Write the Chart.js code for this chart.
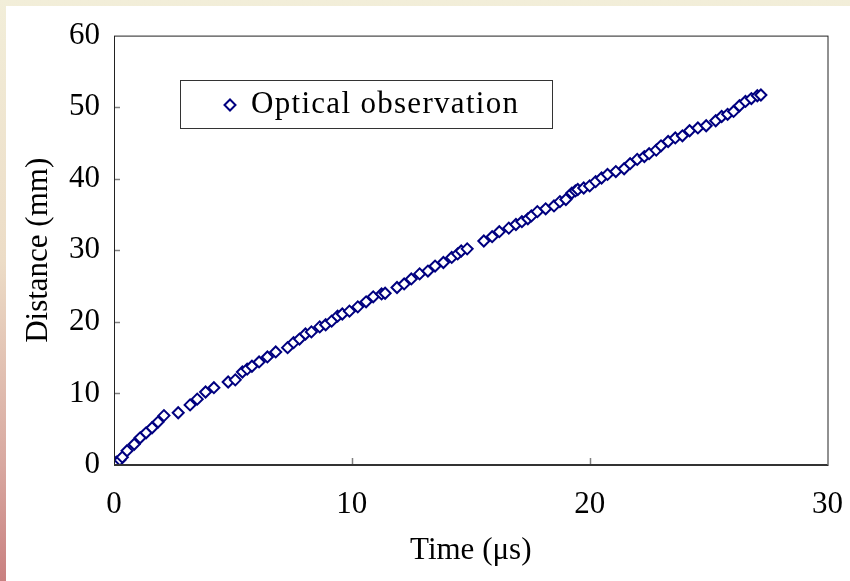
<!DOCTYPE html>
<html lang="en">
<head>
    <meta charset="UTF-8">
    <title>Optical observation</title>
    <script src="https://cdn.jsdelivr.net/npm/chart.js"></script>
    <style>
        html, body { margin: 0; padding: 0; }
        body {
            width: 850px; height: 581px; overflow: hidden; position: relative;
            background: linear-gradient(to bottom, #f2eed9 0%, #ecdcc6 45%, #d8a8a0 80%, #c98080 100%);
        }
        #wrap { position: absolute; left: 6px; top: 6px; width: 858px; height: 575px; background: #fff; overflow: hidden; }
        #distChart { display: block; margin-top: -3px; }
    </style>
</head>
<body>
<div id="wrap"><canvas id="distChart" width="858" height="578"></canvas></div>
<script>
    // time (us) and distance (mm)
    const timeUs = [0.1, 0.25, 0.35, 0.55, 0.85, 1.1, 1.35, 1.6, 1.85, 2.1,
        2.7, 3.2, 3.5, 3.85, 4.2, 4.8, 5.1, 5.4, 5.6, 5.8,
        6.1, 6.45, 6.8, 7.3, 7.55, 7.8, 8.05, 8.3, 8.65, 8.9,
        9.15, 9.4, 9.6, 9.9, 10.25, 10.6, 10.9, 11.25, 11.4, 11.9,
        12.2, 12.5, 12.85, 13.2, 13.5, 13.85, 14.2, 14.45, 14.6, 14.85,
        15.55, 15.9, 16.2, 16.6, 16.9, 17.15, 17.4, 17.55, 17.8, 18.15,
        18.5, 18.75, 19.0, 19.25, 19.4, 19.5, 19.75, 20.0, 20.25, 20.5,
        20.75, 21.1, 21.45, 21.7, 22.0, 22.3, 22.5, 22.8, 23.0, 23.3,
        23.6, 23.9, 24.2, 24.55, 24.9, 25.3, 25.55, 25.8, 26.05, 26.3,
        26.55, 26.8, 27.05, 27.2];
    const distanceMm = [0.4, 0.7, 1.1, 2.0, 2.9, 3.8, 4.5, 5.2, 6.0, 6.9,
        7.3, 8.4, 9.2, 10.2, 10.8, 11.6, 11.9, 13.0, 13.4, 13.8,
        14.4, 15.1, 15.8, 16.4, 17.1, 17.6, 18.3, 18.6, 19.3, 19.6,
        20.1, 20.8, 21.1, 21.5, 22.1, 22.8, 23.5, 23.9, 24.0, 24.8,
        25.3, 26.0, 26.7, 27.1, 27.8, 28.3, 29.0, 29.5, 29.9, 30.2,
        31.3, 31.9, 32.6, 33.1, 33.6, 34.0, 34.4, 34.8, 35.4, 35.8,
        36.2, 36.8, 37.1, 38.0, 38.3, 38.5, 38.7, 39.0, 39.6, 40.1,
        40.6, 41.0, 41.4, 42.1, 42.7, 43.1, 43.5, 44.0, 44.6, 45.2,
        45.7, 46.0, 46.7, 47.1, 47.4, 48.1, 48.7, 49.0, 49.4, 50.2,
        50.8, 51.2, 51.6, 51.7];
    const xTicks = [0, 10, 20, 30];
    const yTicks = [0, 10, 20, 30, 40, 50, 60];
    const seriesName = 'Optical observation';

    const points = timeUs.map((t, i) => ({ x: t, y: distanceMm[i] }));
    const serif = 'Liberation Serif, Times New Roman, serif';
    const fontSize = 31;

    // plot frame, inward tick marks and the boxed legend inside the plot
    const framePlugin = {
        id: 'frame',
        afterDraw(chart) {
            const ctx = chart.ctx;
            const a = chart.chartArea;
            const xs = chart.scales.x, ys = chart.scales.y;
            ctx.save();
            ctx.strokeStyle = '#808080';
            ctx.lineWidth = 1.5;
            yTicks.slice(1, -1).forEach(v => {
                const py = Math.round(ys.getPixelForValue(v)) + 0.5;
                ctx.beginPath(); ctx.moveTo(a.left, py); ctx.lineTo(a.left + 6, py); ctx.stroke();
            });
            xTicks.slice(1, -1).forEach(v => {
                const px = Math.round(xs.getPixelForValue(v)) + 0.5;
                ctx.beginPath(); ctx.moveTo(px, a.bottom); ctx.lineTo(px, a.bottom - 7); ctx.stroke();
            });
            ctx.strokeStyle = '#222';
            ctx.lineWidth = 1;
            ctx.strokeRect(a.left + 0.5, a.top + 0.5, a.right - a.left, a.bottom - a.top);
            ctx.strokeStyle = '#333';
            ctx.lineWidth = 2;
            ctx.beginPath(); ctx.moveTo(a.left, a.bottom); ctx.lineTo(a.right, a.bottom); ctx.stroke();

            // legend box (canvas is shifted up 3px inside the panel)
            const lx = 174, ly = 77;
            ctx.fillStyle = '#fff';
            ctx.fillRect(lx, ly, 372, 48);
            ctx.strokeStyle = '#333';
            ctx.lineWidth = 1;
            ctx.strokeRect(lx + 0.5, ly + 0.5, 372, 48);
            const ds = chart.data.datasets[0];
            ctx.strokeStyle = '#000080';
            ctx.fillStyle = '#fff';
            ctx.lineWidth = 2;
            Chart.helpers.drawPoint(ctx, {
                pointStyle: 'rectRot', radius: 5.5, borderWidth: 2, rotation: 0
            }, lx + 50, ly + 25);
            ctx.fillStyle = '#000';
            ctx.font = fontSize + 'px ' + serif;
            ctx.letterSpacing = '1.3px';
            ctx.textBaseline = 'middle';
            ctx.fillText(ds.label, lx + 71, ly + 25);
            ctx.restore();
        }
    };

    const ctx = document.getElementById('distChart').getContext('2d');
    const distChart = new Chart(ctx, {
        type: 'scatter',
        data: {
            datasets: [{
                label: seriesName,
                data: points,
                pointStyle: 'rectRot',
                pointRadius: 5.5,
                pointBorderWidth: 2,
                borderColor: '#000080',
                backgroundColor: '#ffffff'
            }]
        },
        options: {
            responsive: false,
            animation: false,
            layout: { padding: { top: 27, right: 0, left: 0, bottom: 0 } },
            plugins: { legend: { display: false }, tooltip: { enabled: false } },
            scales: {
                x: {
                    type: 'linear', min: 0, max: 30,
                    afterBuildTicks: s => { s.ticks = xTicks.map(v => ({ value: v })); },
                    afterFit: s => { s.height = 116; },
                    grid: { display: false, drawTicks: false },
                    border: { display: false },
                    ticks: { color: '#000', font: { family: serif, size: fontSize }, padding: 21, maxRotation: 0 },
                    title: { display: true, text: 'Time (\u03bcs)', color: '#000', font: { family: serif, size: fontSize }, padding: { top: 0, bottom: 12 } }
                },
                y: {
                    type: 'linear', min: 0, max: 60,
                    afterBuildTicks: s => { s.ticks = yTicks.map(v => ({ value: v })); },
                    afterFit: s => { s.width = 108; },
                    grid: { display: false, drawTicks: false },
                    border: { display: false },
                    ticks: { color: '#000', font: { family: serif, size: fontSize }, padding: 14 },
                    title: { display: true, text: 'Distance (mm)', color: '#000', font: { family: serif, size: fontSize }, padding: { top: 14, bottom: 0 } }
                }
            }
        },
        plugins: [framePlugin]
    });
</script>
</body>
</html>
